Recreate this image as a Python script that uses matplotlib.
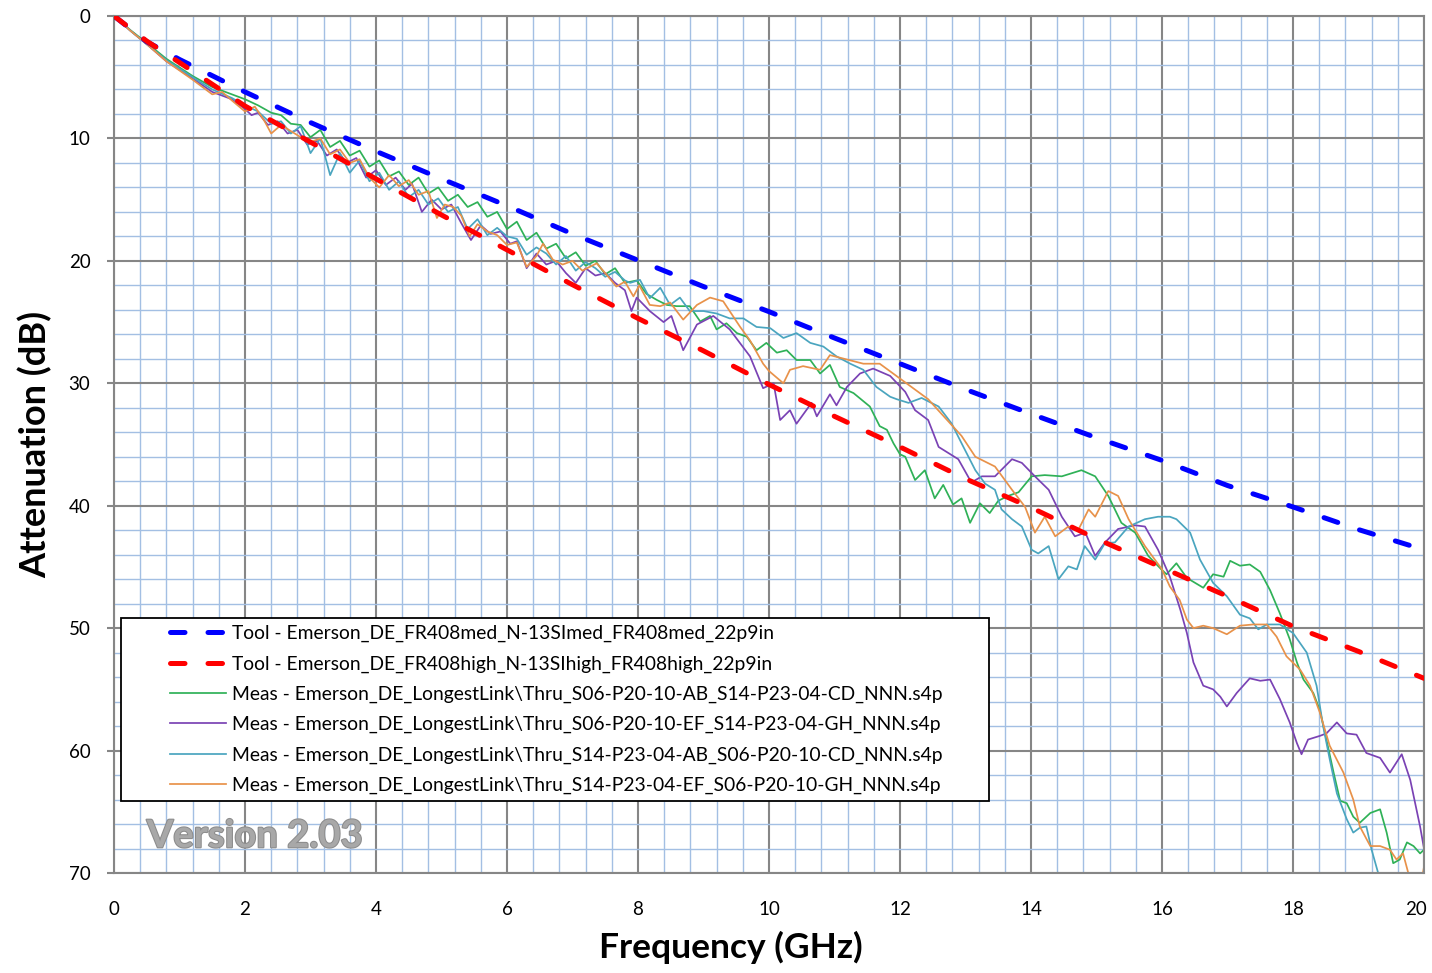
import matplotlib
matplotlib.use("Agg")
import matplotlib.pyplot as plt
import matplotlib.patheffects as pe
import matplotlib.transforms as mtransforms
from matplotlib.patches import Rectangle
from matplotlib.ticker import MultipleLocator

plt.rcParams["font.family"] = ["Lato", "DejaVu Sans"]

# tool predictions (GHz, dB)
tool_freq = [0, 0.5, 1, 2, 3, 4, 5, 6, 7, 8, 9, 10, 11, 12, 13, 14, 15, 16, 17, 18, 19, 20]
tool_med = [0, 2.1, 3.55, 6.2, 8.7, 11.05, 13.3, 15.5, 17.8, 19.95, 22.1, 24.15, 26.3, 28.4,
            30.5, 32.5, 34.45, 36.3, 38.35, 40.1, 41.95, 43.6]
tool_high = [0, 2.05, 3.8, 7.35, 10.3, 13.3, 16.25, 19.1, 21.95, 24.7, 27.35, 30.1, 32.7, 35.2,
             37.8, 40.15, 42.7, 45.05, 47.4, 49.85, 51.9, 54.1]

# measured, S06-P20-10-AB_S14-P23-04-CD
green_f = [0, 0.25, 0.5, 0.8, 1.2, 1.5, 1.8, 2.0, 2.2, 2.4, 2.55, 2.7, 2.85, 3.0, 3.15, 3.3, 3.45,
           3.6, 3.75, 3.9, 4.05, 4.2, 4.35, 4.5, 4.65, 4.8, 4.95, 5.1, 5.25, 5.4, 5.55, 5.7, 5.85,
           6.0, 6.15, 6.3, 6.45, 6.6, 6.75, 6.9, 7.05, 7.2, 7.35, 7.5, 7.65, 7.8, 7.98, 8.13, 8.29,
           8.44, 8.59, 8.79, 8.95, 9.1, 9.2, 9.35, 9.51, 9.66, 9.81, 9.96, 10.12, 10.27, 10.42,
           10.63, 10.78, 10.93, 11.08, 11.29, 11.54, 11.69, 11.8, 11.9, 12.0, 12.08, 12.23, 12.38,
           12.53, 12.66, 12.81, 12.94, 13.07, 13.22, 13.37, 13.5, 13.65, 13.81, 14.01, 14.21, 14.47,
           14.77, 14.98, 15.18, 15.38, 15.59, 15.79, 15.99, 16.07, 16.22, 16.38, 16.63, 16.78,
           16.94, 17.04, 17.19, 17.34, 17.5, 17.65, 17.8, 17.95, 18.06, 18.16, 18.31, 18.41,
           18.51, 18.62, 18.72, 18.82, 18.92, 19.02, 19.18, 19.33, 19.43, 19.53, 19.63, 19.74,
           19.84, 19.94, 20.0]
green_db = [0, 1.15, 2.2, 3.5, 4.9, 5.8, 6.4, 6.8, 7.3, 7.9, 8.1, 8.8, 8.9, 9.9, 9.3, 10.7, 10.2,
            11.4, 11.0, 12.3, 11.8, 13.1, 12.7, 13.8, 13.2, 14.5, 14.0, 15.1, 14.6, 15.6, 15.2, 16.4,
            16.0, 17.4, 16.8, 18.3, 17.7, 19.0, 18.6, 19.8, 19.3, 20.4, 20.0, 21.1, 20.6, 21.8, 21.6,
            22.7, 23.2, 23.6, 23.7, 23.7, 24.95, 24.5, 25.6, 25.1, 25.9, 26.2, 27.3, 26.7, 27.5,
            27.3, 28.1, 28.1, 29.2, 28.5, 30.3, 30.8, 31.9, 33.5, 33.8, 34.9, 35.8, 36.0, 37.9,
            37.1, 39.4, 38.3, 39.9, 39.4, 41.4, 39.8, 40.6, 39.6, 39.2, 38.9, 37.6, 37.5, 37.6,
            37.1, 37.6, 39.2, 41.4, 42.2, 44.1, 45.2, 45.6, 44.7, 45.9, 46.7, 45.6, 45.8, 44.5,
            44.9, 44.8, 45.4, 46.9, 48.8, 50.9, 52.8, 54.2, 55.3, 56.7, 59.1, 61.8, 64.1, 64.3,
            65.4, 65.9, 65.1, 64.8, 66.7, 69.2, 68.9, 67.5, 67.8, 68.4, 68.1]

# measured, S06-P20-10-EF_S14-P23-04-GH
purple_f = [0, 0.25, 0.5, 0.8, 1.2, 1.5, 1.65, 1.8, 2.0, 2.1, 2.2, 2.35, 2.5, 2.65, 2.8, 2.95,
            3.1, 3.25, 3.4, 3.55, 3.7, 3.85, 4.0, 4.15, 4.3, 4.45, 4.55, 4.7, 4.85, 5.0, 5.15, 5.3,
            5.45, 5.6, 5.75, 5.9, 6.05, 6.15, 6.3, 6.45, 6.6, 6.75, 6.9, 7.05, 7.2, 7.35, 7.5, 7.65,
            7.8, 7.9, 7.98, 8.18, 8.39, 8.51, 8.69, 8.9, 9.15, 9.4, 9.71, 9.91, 10.07, 10.17, 10.32,
            10.42, 10.65, 10.73, 10.93, 11.03, 11.19, 11.39, 11.59, 11.85, 12.08, 12.23, 12.43,
            12.59, 12.74, 12.89, 13.09, 13.25, 13.45, 13.71, 13.86, 14.06, 14.27, 14.47, 14.67,
            14.83, 14.98, 15.13, 15.33, 15.59, 15.74, 15.94, 16.12, 16.28, 16.38, 16.48, 16.63,
            16.78, 16.89, 16.99, 17.14, 17.34, 17.5, 17.65, 17.8, 17.95, 18.06, 18.13, 18.23,
            18.41, 18.51, 18.67, 18.82, 18.97, 19.12, 19.33, 19.48, 19.66, 19.79, 19.94, 20.0]
purple_db = [0, 1.2, 2.3, 3.7, 5.1, 6.2, 6.5, 6.8, 7.6, 8.1, 7.9, 8.9, 8.6, 9.6, 9.3, 10.5,
             10.2, 11.4, 10.9, 12.0, 11.6, 13.2, 12.6, 13.8, 13.2, 14.2, 13.7, 16.0, 15.0, 15.8,
             15.4, 16.9, 18.3, 17.1, 17.8, 17.6, 18.6, 18.4, 20.6, 19.4, 20.3, 20.0, 21.0, 21.8,
             20.6, 21.2, 21.0, 21.8, 22.4, 24.1, 23.0, 24.1, 25.0, 24.5, 27.3, 25.2, 24.5, 25.6,
             27.8, 30.4, 30.0, 33.0, 32.2, 33.3, 31.6, 32.7, 30.9, 31.8, 30.3, 29.2, 28.8, 29.4,
             30.7, 32.2, 33.0, 35.2, 35.7, 36.2, 38.1, 37.6, 37.6, 36.2, 36.5, 37.6, 38.7, 40.9,
             42.5, 42.2, 44.1, 43.0, 41.9, 41.6, 41.7, 43.6, 45.8, 48.5, 50.4, 52.8, 54.7, 55.0,
             55.6, 56.4, 55.3, 54.1, 54.3, 54.2, 55.8, 57.7, 59.4, 60.3, 59.1, 58.8, 58.6, 57.7,
             58.6, 58.7, 60.2, 60.6, 61.8, 60.3, 62.4, 66.2, 68.0]

# measured, S14-P23-04-AB_S06-P20-10-CD
cyan_f = [0, 0.25, 0.5, 0.8, 1.2, 1.5, 1.8, 2.0, 2.2, 2.4, 2.55, 2.7, 2.85, 3.0, 3.15, 3.3, 3.45,
          3.6, 3.75, 3.9, 4.05, 4.2, 4.35, 4.5, 4.65, 4.8, 4.95, 5.1, 5.25, 5.4, 5.55, 5.7, 5.85,
          6.0, 6.15, 6.3, 6.45, 6.6, 6.75, 6.9, 7.05, 7.2, 7.35, 7.5, 7.65, 7.8, 7.88, 8.03, 8.18,
          8.34, 8.49, 8.64, 8.79, 9.0, 9.2, 9.4, 9.61, 9.81, 10.02, 10.22, 10.42, 10.63, 10.83,
          11.03, 11.24, 11.44, 11.64, 11.85, 11.95, 12.13, 12.33, 12.59, 12.79, 12.94, 13.15,
          13.3, 13.45, 13.55, 13.71, 13.86, 14.01, 14.11, 14.27, 14.42, 14.57, 14.7, 14.82, 14.98,
          15.13, 15.28, 15.49, 15.74, 15.94, 16.12, 16.22, 16.43, 16.58, 16.78, 16.99, 17.19,
          17.34, 17.47, 17.6, 17.8, 18.0, 18.21, 18.36, 18.46, 18.56, 18.67, 18.82, 18.92, 19.02,
          19.12, 19.2, 19.3, 19.35]
cyan_db = [0, 1.2, 2.3, 3.6, 5.0, 6.0, 6.7, 7.3, 7.8, 8.8, 8.6, 9.6, 9.0, 11.2, 10.0, 13.0, 11.2,
           12.8, 11.8, 13.5, 12.8, 14.2, 13.5, 14.8, 14.2, 15.4, 14.9, 16.0, 15.6, 17.4, 16.6,
           17.9, 17.3, 18.0, 18.2, 19.5, 18.9, 19.4, 20.3, 19.6, 20.8, 20.1, 20.6, 21.3, 20.9,
           21.6, 21.8, 21.55, 23.05, 22.2, 23.6, 23.0, 24.1, 24.1, 24.3, 24.7, 24.7, 25.4, 25.5,
           26.3, 25.9, 26.7, 27.0, 27.8, 28.4, 28.9, 30.3, 31.1, 31.3, 31.6, 31.2, 31.9, 33.3,
           34.9, 37.1, 38.2, 38.7, 40.3, 41.1, 41.7, 43.6, 43.9, 43.3, 46.0, 44.95, 45.2, 43.3,
           44.4, 43.05, 43.0, 41.7, 41.1, 40.9, 40.9, 41.1, 42.2, 44.4, 46.3, 47.4, 48.9, 49.2,
           50.1, 49.7, 49.7, 50.4, 52.0, 54.7, 58.0, 60.7, 63.5, 65.6, 66.7, 66.3, 66.2, 68.1,
           70.0, 71.5]

# measured, S14-P23-04-EF_S06-P20-10-GH
orange_f = [0, 0.25, 0.5, 0.8, 1.2, 1.5, 1.65, 1.8, 2.0, 2.15, 2.3, 2.4, 2.55, 2.7, 2.85, 3.0,
            3.15, 3.3, 3.45, 3.6, 3.75, 3.9, 4.05, 4.2, 4.35, 4.5, 4.65, 4.8, 4.93, 5.05, 5.18,
            5.3, 5.43, 5.55, 5.7, 5.85, 6.0, 6.15, 6.3, 6.45, 6.55, 6.7, 6.85, 7.0, 7.15, 7.37,
            7.5, 7.67, 7.8, 7.93, 8.02, 8.18, 8.34, 8.49, 8.69, 8.9, 9.1, 9.3, 9.56, 9.71, 9.91,
            10.0, 10.22, 10.32, 10.52, 10.78, 10.93, 11.44, 11.69, 11.92, 12.43, 12.94, 13.15,
            13.45, 13.71, 13.91, 14.06, 14.21, 14.37, 14.57, 14.72, 14.88, 14.98, 15.18, 15.33,
            15.49, 15.74, 16.0, 16.12, 16.27, 16.38, 16.48, 16.63, 16.78, 16.99, 17.19, 17.39,
            17.6, 17.75, 17.9, 18.11, 18.26, 18.41, 18.56, 18.77, 18.92, 19.02, 19.18, 19.33,
            19.48, 19.58, 19.68, 19.76, 19.85, 19.95, 20.0]
orange_db = [0, 1.2, 2.3, 3.7, 5.2, 6.4, 6.2, 6.9, 7.8, 7.4, 8.6, 9.6, 8.9, 9.4, 9.9, 10.3,
             10.0, 11.3, 10.9, 12.0, 11.7, 13.2, 14.0, 13.0, 13.9, 13.4, 14.6, 14.3, 16.5, 15.4,
             15.6, 16.3, 18.0, 17.0, 17.6, 17.9, 18.7, 18.5, 20.5, 19.6, 18.6, 19.9, 20.3, 20.0,
             20.8, 20.2, 21.0, 22.1, 21.7, 22.9, 22.0, 23.6, 23.7, 23.4, 24.8, 23.6, 23.0, 23.3,
             25.4, 26.5, 28.4, 29.0, 30.0, 28.9, 28.6, 28.9, 27.7, 28.4, 28.4, 29.3, 31.3, 34.3,
             36.0, 36.8, 38.7, 40.1, 42.2, 40.9, 42.5, 41.7, 42.0, 40.3, 40.9, 38.8, 39.2, 41.1,
             43.3, 45.2, 46.6, 47.7, 49.3, 50.0, 49.8, 50.0, 50.5, 49.8, 49.7, 49.7, 50.7, 52.3,
             53.4, 54.7, 56.9, 59.6, 61.8, 64.0, 66.2, 67.8, 67.8, 68.1, 68.9, 68.4, 70.0, 71.5,
             71.0, 69.5]

x_ticks = [0, 2, 4, 6, 8, 10, 12, 14, 16, 18, 20]
labels = [
    "Tool - Emerson_DE_FR408med_N-13SImed_FR408med_22p9in",
    "Tool - Emerson_DE_FR408high_N-13SIhigh_FR408high_22p9in",
    "Meas - Emerson_DE_LongestLink\\Thru_S06-P20-10-AB_S14-P23-04-CD_NNN.s4p",
    "Meas - Emerson_DE_LongestLink\\Thru_S06-P20-10-EF_S14-P23-04-GH_NNN.s4p",
    "Meas - Emerson_DE_LongestLink\\Thru_S14-P23-04-AB_S06-P20-10-CD_NNN.s4p",
    "Meas - Emerson_DE_LongestLink\\Thru_S14-P23-04-EF_S06-P20-10-GH_NNN.s4p",
]

fig = plt.figure(figsize=(14.32, 9.73), dpi=100)
ax = fig.add_axes([114 / 1432, 100 / 973, 1310 / 1432, 857 / 973])

meas = [(green_f, green_db, "#2fb157"), (purple_f, purple_db, "#7a42b4"),
        (cyan_f, cyan_db, "#4aa5bf"), (orange_f, orange_db, "#e8924a")]
handles = []
dash = (0, (2.9, 4.6))
h1, = ax.plot(tool_freq, tool_med, color="#0000ff", lw=3.6, ls=dash,
              dash_capstyle="round", zorder=3)
h2, = ax.plot(tool_freq, tool_high, color="#ff0000", lw=3.6, ls=dash,
              dash_capstyle="round", zorder=3)
handles += [h1, h2]
for f, d, c in meas:
    h, = ax.plot(f, d, color=c, lw=1.25, zorder=2)
    handles.append(h)

ax.set_xlim(0, 20)
ax.set_ylim(70, 0)
ax.set_xticks(x_ticks, [str(t) for t in x_ticks])
ax.xaxis.set_minor_locator(MultipleLocator(0.4))
ax.yaxis.set_major_locator(MultipleLocator(10))
ax.yaxis.set_minor_locator(MultipleLocator(2))
ax.set_axisbelow(True)
ax.grid(which="minor", color="#a3bfe3", lw=1.0)
ax.grid(which="major", color="#868686", lw=1.5)
for s in ax.spines.values():
    s.set_color("#868686")
    s.set_linewidth(1.5)
ax.tick_params(which="minor", length=0)
ax.tick_params(axis="y", which="major", length=5, width=1.5, color="#868686",
               pad=12, labelsize=13.5)
ax.tick_params(axis="x", which="major", length=0, pad=20, labelsize=13.5)

# nudge the last x label left so it stays inside the figure
last = ax.xaxis.get_major_ticks()[-1].label1
last.set_transform(last.get_transform() +
                   mtransforms.ScaledTranslation(-8 / 100, 0, fig.dpi_scale_trans))

ax.set_xlabel("Frequency (GHz)", fontsize=25.5, fontweight="bold")
ax.set_ylabel("Attenuation (dB)", fontsize=26, fontweight="bold")
ax.xaxis.set_label_coords(0.471, -0.068)
ax.yaxis.set_label_coords(-0.047, 0.5)

# legend box drawn as a plain rectangle, legend entries on top of it
box = Rectangle((7 / 1310, 72 / 857), 868 / 1310, 183 / 857, transform=ax.transAxes,
                facecolor="white", edgecolor="black", lw=1.3, zorder=4)
ax.add_patch(box)
leg = ax.legend(handles, labels, loc="upper left", bbox_to_anchor=(56 / 1310, 248 / 857),
                frameon=False, fontsize=13.9, handlelength=2.9, handletextpad=0.3,
                labelspacing=0.68, borderpad=0, borderaxespad=0)
leg.set_zorder(5)

ax.text(0.025, 0.03, "Version 2.03", transform=ax.transAxes, fontsize=27.5,
        fontweight="bold", color="#a8a8a8", zorder=3,
        path_effects=[pe.withStroke(linewidth=1.5, foreground="#8c8c8c")])

fig.savefig("out.png", dpi=100)
